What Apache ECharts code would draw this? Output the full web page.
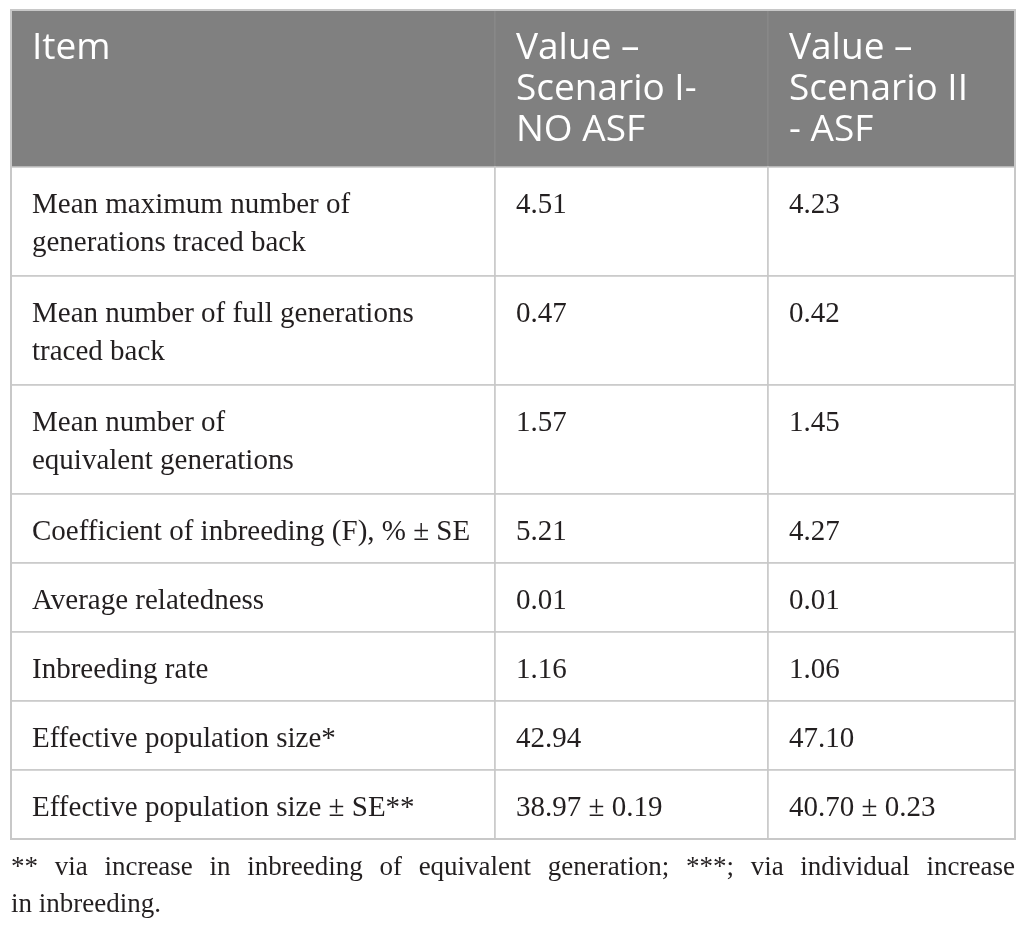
<!DOCTYPE html>
<html><head><meta charset="utf-8">
<script src="https://cdn.jsdelivr.net/npm/echarts@6/dist/echarts.min.js"></script>
<style>html,body{margin:0;padding:0;background:#fff;}#c{width:1026px;height:928px;}</style>
</head><body><div id="c"></div>
<script>
// ---- data ----
var headers = ["Item", "Value –\nScenario I-\nNO ASF", "Value –\nScenario II\n- ASF"];
var items = [
  "Mean maximum number of\ngenerations traced back",
  "Mean number of full generations\ntraced back",
  "Mean number of\nequivalent generations",
  "Coefficient of inbreeding (F), % ± SE",
  "Average relatedness",
  "Inbreeding rate",
  "Effective population size*",
  "Effective population size ± SE**"
];
var scenario1 = ["4.51", "0.47", "1.57", "5.21", "0.01", "1.16", "42.94", "38.97 ± 0.19"];
var scenario2 = ["4.23", "0.42", "1.45", "4.27", "0.01", "1.06", "47.10", "40.70 ± 0.23"];
var footnoteLine1 = "** via increase in inbreeding of equivalent generation; ***; via individual increase";
var footnoteLine2 = "in inbreeding.";

// ---- layout ----
var colEdges = [0, 484, 757, 1004];
var rowHeights = [157, 109, 109, 109, 69, 69, 69, 69, 69];
var rowEdges = [0];
rowHeights.forEach(function (h) { rowEdges.push(rowEdges[rowEdges.length - 1] + h); });
var totalH = rowEdges[rowEdges.length - 1];
var SERIF = '"Liberation Serif", "DejaVu Serif", serif';
var SANS = '"Open Sans", "Noto Sans", sans-serif';

var cells = [];
headers.forEach(function (h, c) { cells.push([c, 0, h]); });
items.forEach(function (it, r) {
  cells.push([0, r + 1, it]);
  cells.push([1, r + 1, scenario1[r]]);
  cells.push([2, r + 1, scenario2[r]]);
});

var chart = echarts.init(document.getElementById('c'), null, {renderer: 'canvas'});

function renderCell(params, api) {
  var c = api.value(0), r = api.value(1);
  var p0 = api.coord([colEdges[c], rowEdges[r]]);
  var p1 = api.coord([colEdges[c + 1], rowEdges[r + 1]]);
  var x = p0[0], y = p0[1], w = p1[0] - p0[0], h = p1[1] - p0[1];
  var txt = cells[params.dataIndex][2];
  var header = r === 0;
  return {
    type: 'group',
    children: [
      {type: 'rect', shape: {x: x, y: y, width: w, height: h},
        style: {fill: header ? '#808080' : '#ffffff', stroke: header ? '#8a8a8a' : '#c8c8c8', lineWidth: header ? 1 : 1.5}},
      {type: 'text', x: x + 21, y: y + (header ? 18 : 19),
        style: {text: txt, fill: header ? '#ffffff' : '#231f20',
          font: header ? ('37px ' + SANS) : ('29px ' + SERIF),
          lineHeight: header ? 41 : 38, verticalAlign: 'top', align: 'left'}}
    ]
  };
}

chart.setOption({
  animation: false,
  grid: {left: 11, top: 10, width: 1004, height: totalH},
  xAxis: {type: 'value', min: 0, max: 1004, show: false},
  yAxis: {type: 'value', min: 0, max: totalH, inverse: true, show: false},
  series: [{
    type: 'custom',
    renderItem: renderCell,
    data: cells.map(function (d) { return [d[0], d[1]]; }),
    silent: true
  }, {
    type: 'custom',
    renderItem: function (params, api) {
      var p0 = api.coord([0, 0]), p1 = api.coord([1004, totalH]);
      return {type: 'rect', shape: {x: p0[0], y: p0[1], width: p1[0] - p0[0], height: p1[1] - p0[1]},
        style: {fill: 'none', stroke: '#c8c8c8', lineWidth: 2}};
    },
    data: [[0, 0]],
    silent: true
  }]
});

// footnote, justified first line
var ctx = document.createElement('canvas').getContext('2d');
var fnFont = '27px ' + SERIF;
ctx.font = fnFont;
var words = footnoteLine1.split(' ');
var widths = words.map(function (w) { return ctx.measureText(w).width; });
var sum = widths.reduce(function (a, b) { return a + b; }, 0);
var lineLeft = 11, lineRight = 1015;
var gap = (lineRight - lineLeft - sum) / (words.length - 1);
var elems = [];
var cx = lineLeft;
words.forEach(function (w, i) {
  elems.push({type: 'text', x: cx, y: 868, silent: true,
    style: {text: w, font: fnFont, fill: '#231f20', verticalAlign: 'middle'}});
  cx += widths[i] + gap;
});
elems.push({type: 'text', x: lineLeft, y: 905, silent: true,
  style: {text: footnoteLine2, font: fnFont, fill: '#231f20', verticalAlign: 'middle'}});
chart.setOption({graphic: elems});
</script></body></html>
